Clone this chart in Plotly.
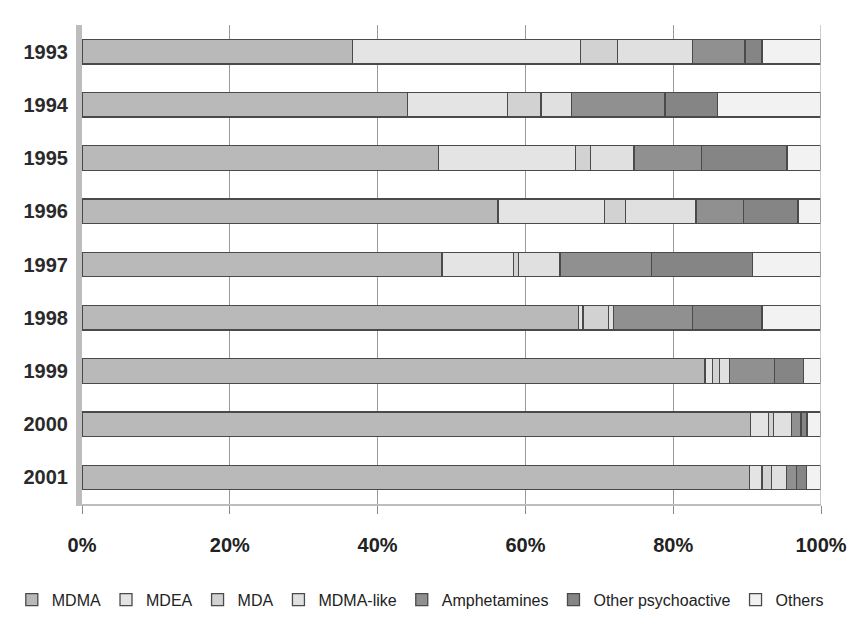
import plotly.graph_objects as go

years = ["1993", "1994", "1995", "1996", "1997", "1998", "1999", "2000", "2001"]
series_names = ["MDMA", "MDEA", "MDA", "MDMA-like", "Amphetamines", "Other psychoactive", "Others"]

mdma = [36.6, 44.0, 48.2, 56.3, 48.7, 67.2, 84.3, 90.5, 90.3]
mdea = [30.9, 13.6, 18.6, 14.4, 9.7, 0.6, 1.0, 2.4, 1.7]
mda = [5.0, 4.5, 2.0, 2.8, 0.7, 3.4, 1.0, 0.7, 1.3]
mdma_like = [10.1, 4.1, 5.9, 9.6, 5.6, 0.7, 1.3, 2.4, 2.0]
amphetamines = [7.1, 12.7, 9.1, 6.4, 12.4, 10.7, 6.1, 1.3, 1.4]
other_psychoactive = [2.3, 7.1, 11.6, 7.4, 13.6, 9.4, 3.9, 0.8, 1.3]
others = [8.0, 14.0, 4.6, 3.1, 9.3, 8.0, 2.4, 1.9, 2.0]

tick_vals = [0, 20, 40, 60, 80, 100]
tick_text = ["0%", "20%", "40%", "60%", "80%", "100%"]

colors = ["#b9b9b9", "#e4e4e4", "#d2d2d2", "#e0e0e0", "#909090", "#858585", "#f2f2f2"]
values = [mdma, mdea, mda, mdma_like, amphetamines, other_psychoactive, others]

FONT = "Liberation Sans, Arial, sans-serif"

fig = go.Figure()
for name, vals, col in zip(series_names, values, colors):
    fig.add_trace(go.Bar(
        y=years, x=vals, name=name, orientation="h",
        marker=dict(color=col, line=dict(color="#4a4a4a", width=1.3)),
        width=0.46,
    ))

fig.update_layout(
    barmode="stack",
    width=859, height=629,
    margin=dict(l=75, r=33, t=25, b=113),
    paper_bgcolor="white", plot_bgcolor="white",
    showlegend=True,
    legend=dict(orientation="h", x=-0.095, xanchor="left", y=-0.2, yanchor="middle",
                font=dict(family=FONT, size=16, color="#222222"),
                traceorder="normal", itemwidth=30, tracegroupgap=0),
    font=dict(family=FONT),
)
fig.update_xaxes(
    range=[0, 100], tickvals=tick_vals, ticktext=tick_text,
    showgrid=True, gridcolor="#9a9a9a", gridwidth=1,
    showline=True, linecolor="#bdbdbd", linewidth=2, mirror=False,
    zeroline=False, ticks="outside", ticklen=8, tickcolor="#888888",
    tickfont=dict(family=FONT, size=20, color="#222222", weight="bold"),
    ticklabelstandoff=14,
)
fig.update_yaxes(
    categoryorder="array", categoryarray=years, autorange="reversed",
    showline=True, linecolor="#bdbdbd", linewidth=6,
    tickfont=dict(family=FONT, size=20, color="#2a2a2a", weight="bold"),
    ticks="", ticklabelstandoff=4,
)
fig.add_shape(type="line", xref="x", yref="paper", x0=100, x1=100, y0=0, y1=1,
              line=dict(color="#bdbdbd", width=1.5))

fig.write_html("out.html", config={"displayModeBar": False},
               post_script="document.body.style.margin='0';")
